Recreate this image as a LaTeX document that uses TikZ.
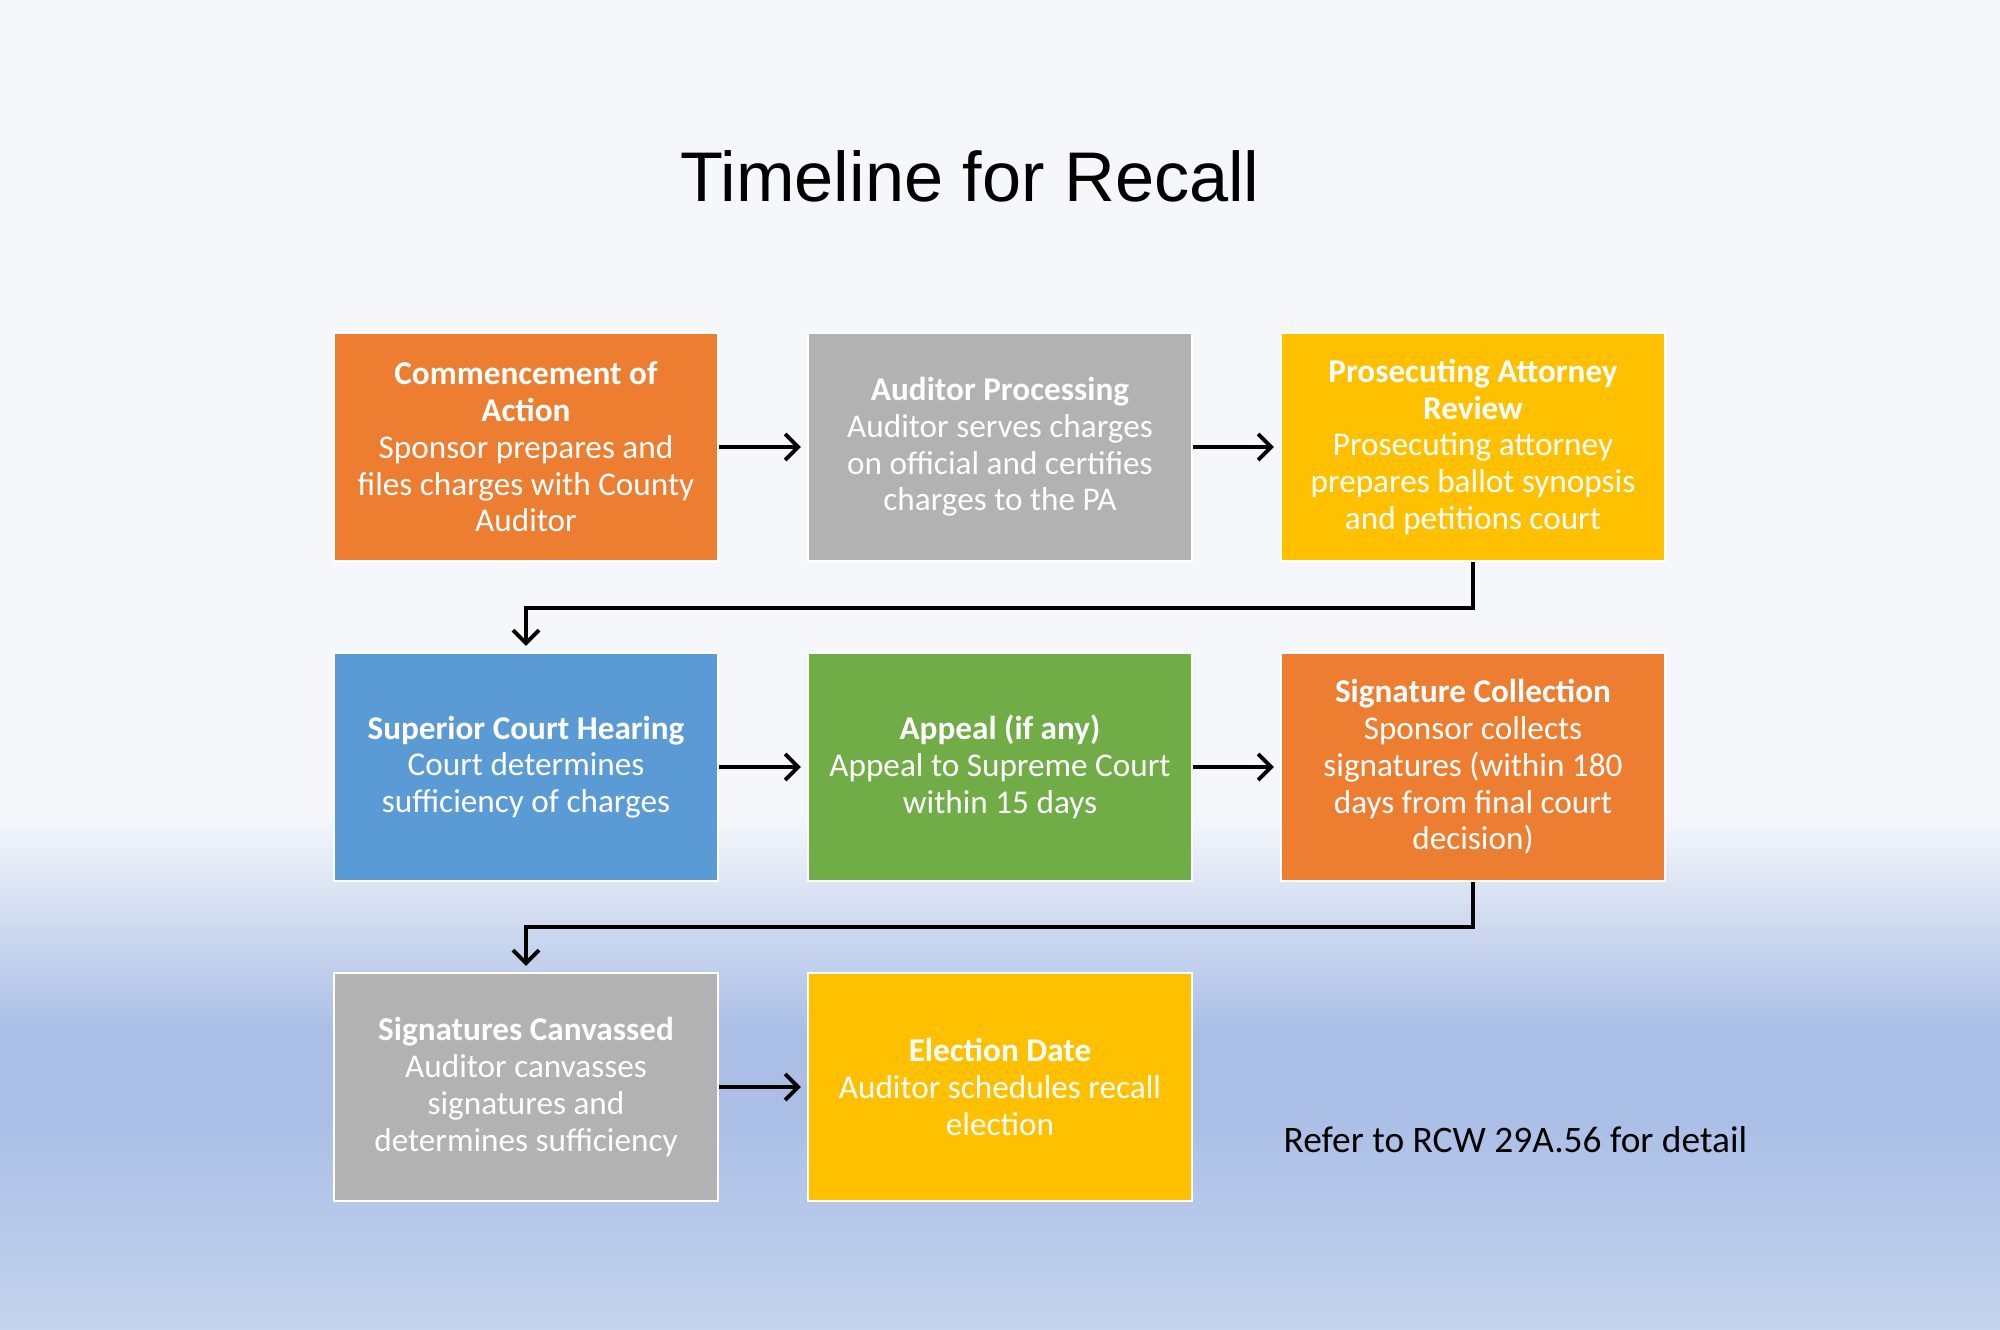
\documentclass[tikz,border=0pt]{standalone}
\usepackage{fontspec}
\setmainfont{Carlito}
\newfontfamily\titlefont{Liberation Sans}
\usepackage{tikz}
\usetikzlibrary{arrows.meta}

\definecolor{stepOrange}{HTML}{ED7D31}
\definecolor{stepGray}{HTML}{B2B2B2}
\definecolor{stepGold}{HTML}{FFC000}
\definecolor{stepBlue}{HTML}{5B9BD5}
\definecolor{stepGreen}{HTML}{70AD47}
\definecolor{bgTop}{HTML}{F5F7FB}
\definecolor{bgMid}{HTML}{AABEE6}
\definecolor{bgBot}{HTML}{C4D4EE}

\begin{document}
\begin{tikzpicture}[x=0.1mm, y=-0.1mm,
    stepbox/.style={draw=white, line width=0.6pt, minimum width=38.4mm, minimum height=22.8mm,
        inner sep=0pt, align=center, text=white, font=\fontsize{9.45}{10.45}\selectfont},
    flow/.style={-{Straight Barb[length=1.3mm, width=2.6mm]}, line width=1.1pt, shorten >=0.6mm}]
        \useasboundingbox (0,0) rectangle (2000,1330);
        % background
        \fill[bgTop] (0,0) rectangle (2000,816);
        \shade[top color=bgTop, bottom color=bgMid] (0,815) rectangle (2000,1031);
        \fill[bgMid] (0,1030) rectangle (2000,1111);
        \shade[top color=bgMid, bottom color=bgBot] (0,1110) rectangle (2000,1330);

        \node[font=\titlefont\fontsize{20}{24}\selectfont] at (970, 176) (title) {Timeline for Recall};

        \node[stepbox, fill=stepOrange] at (526, 447) (comm) {\textbf{Commencement of}\\\textbf{Action}\\Sponsor prepares and\\files charges with County\\Auditor};
        \node[stepbox, fill=stepGray] at (1000, 447) (aud) {\textbf{Auditor Processing}\\Auditor serves charges\\on official and certifies\\charges to the PA};
        \node[stepbox, fill=stepGold] at (1473, 447) (pros) {\textbf{Prosecuting Attorney}\\\textbf{Review}\\Prosecuting attorney\\prepares ballot synopsis\\and petitions court};
        \node[stepbox, fill=stepBlue] at (526, 767) (sup) {\textbf{Superior Court Hearing}\\Court determines\\sufficiency of charges};
        \node[stepbox, fill=stepGreen] at (1000, 767) (app) {\textbf{Appeal (if any)}\\Appeal to Supreme Court\\within 15 days};
        \node[stepbox, fill=stepOrange] at (1473, 767) (sig) {\textbf{Signature Collection}\\Sponsor collects\\signatures (within 180\\days from final court\\decision)};
        \node[stepbox, fill=stepGray] at (526, 1087) (canv) {\textbf{Signatures Canvassed}\\Auditor canvasses\\signatures and\\determines sufficiency};
        \node[stepbox, fill=stepGold] at (1000, 1087) (elec) {\textbf{Election Date}\\Auditor schedules recall\\election};

        \node[anchor=west, inner sep=0pt, font=\fontsize{10.65}{12}\selectfont] at (1283, 1140) (rcw) {Refer to RCW 29A.56 for detail};

        \draw [flow] (comm) -- (aud);
        \draw [flow] (aud) -- (pros);
        \draw [flow] (pros.south) -- ++(0,46) -| (sup.north);
        \draw [flow] (sup) -- (app);
        \draw [flow] (app) -- (sig);
        \draw [flow] (sig.south) -- ++(0,45) -| (canv.north);
        \draw [flow] (canv) -- (elec);
    \end{tikzpicture}
\end{document}
